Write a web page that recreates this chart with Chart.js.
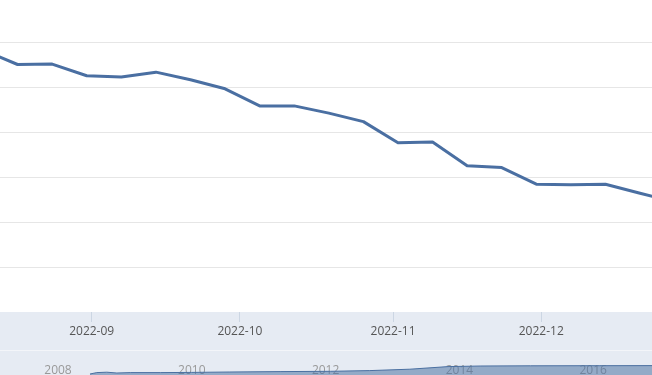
<!DOCTYPE html>
<html>
<head>
<meta charset="utf-8">
<script src="https://cdn.jsdelivr.net/npm/chart.js@4.4.1/dist/chart.umd.min.js"></script>
<style>
  html, body { margin: 0; padding: 0; overflow: hidden; background: #fff; }
  #wrap { position: relative; width: 652px; height: 375px; overflow: hidden; }
  #main { position: absolute; left: 0; top: 0; }
  #navbox { position: absolute; left: 0; top: 351px; width: 652px; height: 40px; background: #e6ebf3; }
</style>
</head>
<body>
<div id="wrap">
  <canvas id="main" width="652" height="351"></canvas>
  <div id="navbox"><canvas id="nav" width="652" height="40"></canvas></div>
</div>
<script>
// weekly series shown in the main pane
const weekDates = ['2022-08-10', '2022-08-17', '2022-08-24', '2022-08-31', '2022-09-07', '2022-09-14',
  '2022-09-21', '2022-09-28', '2022-10-05', '2022-10-12', '2022-10-19', '2022-10-26', '2022-11-02',
  '2022-11-09', '2022-11-16', '2022-11-23', '2022-11-30', '2022-12-07', '2022-12-14', '2022-12-21', '2022-12-28'];
const weekValues = [5.82, 5.50, 5.51, 5.25, 5.22, 5.33, 5.16, 4.96, 4.58, 4.58, 4.42, 4.23, 3.76,
  3.78, 3.25, 3.21, 2.84, 2.83, 2.84, 2.64, 2.44];

const monthTicks = ['2022-09-01', '2022-10-01', '2022-11-01', '2022-12-01'];
const monthLabels = ['2022-09', '2022-10', '2022-11', '2022-12'];
const gridValues = [1, 2, 3, 4, 5, 6];
const viewFrom = -18.56;  // days from 2022-09-01
const viewTo = 113.42;

// navigator (full history, cropped)
const navYears = [2008.478, 2008.58, 2008.73, 2008.88, 2009.08, 2009.53, 2010.0, 2010.57, 2011.32,
  2012.07, 2012.66, 2013.26, 2013.83, 2014.31, 2015.06, 2016.10, 2017.0];
const navValues = [17.0, 18.4, 18.8, 18.0, 18.4, 18.4, 18.6, 19.0, 19.4, 19.7, 20.4, 21.8, 24.4,
  25.0, 25.2, 25.3, 25.4];
const navYearLabels = [2008, 2010, 2012, 2014, 2016];
const navFrom = 2007.133;
const navTo = 2016.879;

const BASE = Date.parse('2022-09-01');
const toDay = (d) => (Date.parse(d) - BASE) / 86400000;

const LINE = '#4a6fa2';
const BAND = '#e6ebf3';

const bandPlugin = {
  id: 'band',
  beforeDraw(chart) {
    const { ctx, chartArea, width, height } = chart;
    ctx.save();
    ctx.fillStyle = BAND;
    ctx.fillRect(0, chartArea.bottom, width, height - chartArea.bottom);
    ctx.fillStyle = '#f3f5f9';
    ctx.fillRect(0, height - 1, width, 1);
    ctx.restore();
  },
};

new Chart(document.getElementById('main'), {
  type: 'line',
  data: {
    datasets: [{
      data: weekDates.map((d, i) => ({ x: toDay(d), y: weekValues[i] })),
      borderColor: LINE,
      borderWidth: 3,
      borderJoinStyle: 'round',
      borderCapStyle: 'round',
      pointRadius: 0,
      tension: 0,
      fill: false,
    }],
  },
  options: {
    responsive: false,
    animation: false,
    layout: { padding: 0 },
    plugins: { legend: { display: false }, tooltip: { enabled: false } },
    scales: {
      x: {
        type: 'linear',
        min: viewFrom,
        max: viewTo,
        afterBuildTicks: (s) => { s.ticks = monthTicks.map((d) => ({ value: toDay(d) })); },
        afterFit: (s) => { s.height = 39; },
        ticks: {
          callback: (v, i) => monthLabels[i],
          color: '#555',
          padding: 2,
          maxRotation: 0,
          font: { family: 'Open Sans', size: 12 },
        },
        grid: { drawOnChartArea: false, drawTicks: true, tickLength: 10, tickColor: '#ccd6e3' },
        border: { display: false },
      },
      y: {
        min: 0,
        max: 312 / 45,
        afterBuildTicks: (s) => { s.ticks = gridValues.map((v) => ({ value: v })); },
        afterFit: (s) => { s.width = 0; },
        ticks: { display: false },
        grid: { color: '#e6e6e6', drawTicks: false },
        border: { display: false },
      },
    },
  },
  plugins: [bandPlugin],
});

const yearLabelPlugin = {
  id: 'yearLabels',
  beforeDatasetsDraw(chart) {
    const { ctx } = chart;
    const xs = chart.scales.x;
    ctx.save();
    ctx.font = '12px "Open Sans"';
    ctx.fillStyle = '#999';
    ctx.textAlign = 'center';
    ctx.textBaseline = 'alphabetic';
    navYearLabels.forEach((yr) => ctx.fillText(String(yr), xs.getPixelForValue(yr), 23));
    ctx.restore();
  },
};

new Chart(document.getElementById('nav'), {
  type: 'line',
  data: {
    datasets: [{
      data: navYears.map((x, i) => ({ x, y: navValues[i] })),
      borderColor: '#4a6fa0',
      borderWidth: 1,
      backgroundColor: 'rgba(74,111,160,0.53)',
      fill: 'origin',
      pointRadius: 0,
      tension: 0,
    }],
  },
  options: {
    responsive: false,
    animation: false,
    layout: { padding: 0 },
    plugins: { legend: { display: false }, tooltip: { enabled: false } },
    scales: {
      x: { type: 'linear', min: navFrom, max: navTo, display: false },
      y: { min: 0, max: 40, display: false },
    },
  },
  plugins: [yearLabelPlugin],
});
</script>
</body>
</html>
